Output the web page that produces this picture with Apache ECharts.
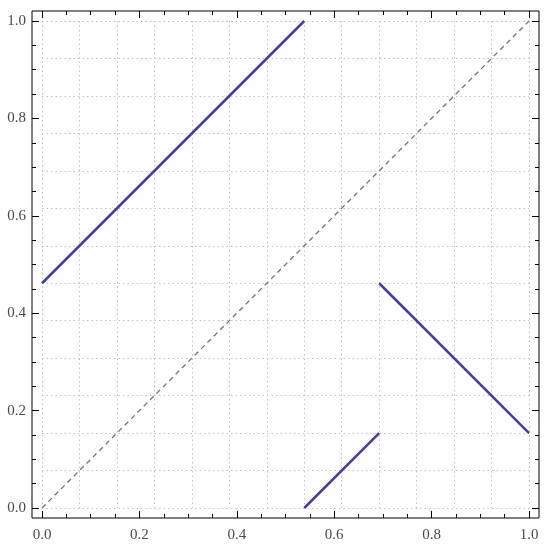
<!DOCTYPE html>
<html>
<head>
<meta charset="utf-8">
<script src="https://cdn.jsdelivr.net/npm/echarts@6/dist/echarts.min.js"></script>
<style>
  html, body { margin: 0; padding: 0; background: #fff; }
  #chart { width: 550px; height: 547px; }
</style>
</head>
<body>
<div id="chart"></div>
<script>
// piecewise map plot: three solid segments plus the identity diagonal
const diagonal = [[0, 0], [1, 1]];
const segUpper = [[0, 0.4615], [0.5385, 1]];
const segLowRise = [[0.5385, 0], [0.6923, 0.1538]];
const segFall = [[0.6923, 0.4615], [1, 0.1538]];

// grid lines sit on every 1/13, tick labels every 0.2
const gridStep = 0.076923;
const tickStep = 0.2;

const pad = 10 / 487; // frame padding around the unit square

const chart = echarts.init(document.getElementById('chart'));

const labelStyle = { fontFamily: 'Liberation Serif', fontSize: 15, color: '#4a4a4a' };
const fmt = v => v.toFixed(1);

function frameAxis(pos, withLabels) {
  return {
    type: 'value', gridIndex: 1, min: 0, max: 1, interval: tickStep,
    position: pos, offset: 10,
    axisLine: { show: false, onZero: false },
    axisTick: { show: true, inside: true, length: 7, lineStyle: { color: '#000', width: 1 } },
    minorTick: { show: true, splitNumber: 4, length: 4, lineStyle: { color: '#000', width: 1 } },
    axisLabel: Object.assign({ show: withLabels, formatter: fmt, margin: pos === 'bottom' ? 10 : 6 }, labelStyle),
    splitLine: { show: false },
  };
}

function gridAxis() {
  return {
    type: 'value', gridIndex: 1, min: 0, max: 1, interval: gridStep,
    axisLine: { show: false, onZero: false }, axisTick: { show: false }, axisLabel: { show: false },
    splitLine: { show: true, lineStyle: { color: '#c2c2c2', type: [1.5, 3], width: 1 } },
  };
}

const solid = { color: '#3f3f9c', width: 2.5 };

chart.setOption({
  animation: false,
  backgroundColor: '#fff',
  grid: [
    { left: 32, right: 11, top: 11, bottom: 29, show: true, borderColor: '#000', borderWidth: 1, backgroundColor: 'transparent', z: 5 },
    { left: 42, right: 21, top: 21, bottom: 39 },
  ],
  xAxis: [
    { type: 'value', gridIndex: 0, min: -pad, max: 1 + pad, show: false },
    frameAxis('bottom', true),
    frameAxis('top', false),
    gridAxis(),
  ],
  yAxis: [
    { type: 'value', gridIndex: 0, min: -pad, max: 1 + pad, show: false },
    frameAxis('left', true),
    frameAxis('right', false),
    gridAxis(),
  ],
  series: [
    { type: 'line', xAxisIndex: 1, yAxisIndex: 1, data: diagonal, symbol: 'none', silent: true,
      lineStyle: { color: '#6c6c94', width: 1.3, type: [5, 4] } },
    { type: 'line', xAxisIndex: 1, yAxisIndex: 1, data: segUpper, symbol: 'none', lineStyle: solid },
    { type: 'line', xAxisIndex: 1, yAxisIndex: 1, data: segLowRise, symbol: 'none', lineStyle: solid },
    { type: 'line', xAxisIndex: 1, yAxisIndex: 1, data: segFall, symbol: 'none', lineStyle: solid },
  ],
});
</script>
</body>
</html>
